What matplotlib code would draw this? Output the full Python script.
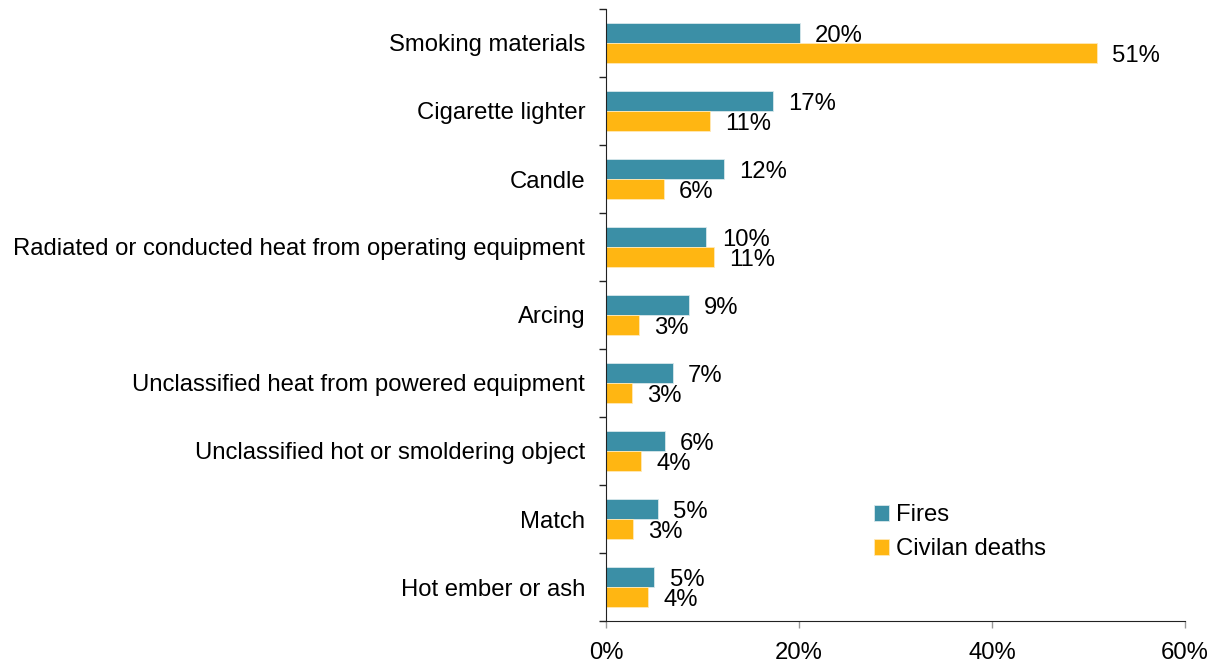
import numpy as np
import matplotlib.pyplot as plt
from matplotlib.ticker import FuncFormatter

plt.rcParams['font.family'] = ['Liberation Sans', 'DejaVu Sans']

# Heat source categories, top to bottom
categories = [
    'Smoking materials',
    'Cigarette lighter',
    'Candle',
    'Radiated or conducted heat from operating equipment',
    'Arcing',
    'Unclassified heat from powered equipment',
    'Unclassified hot or smoldering object',
    'Match',
    'Hot ember or ash',
]
fires = [20.1, 17.3, 12.2, 10.4, 8.6, 6.9, 6.1, 5.4, 5.0]
deaths = [50.9, 10.8, 6.0, 11.2, 3.4, 2.7, 3.6, 2.8, 4.4]
x_ticks = [0, 20, 40, 60]

teal = '#3B8FA6'
gold = '#FFB612'
fs = 17.2

fig = plt.figure(figsize=(12.24, 6.65), dpi=100)
ax = fig.add_axes([606 / 1224, 1 - 621 / 665, 579 / 1224, 612 / 665])

y = np.arange(len(categories))
h = 0.29
b1 = ax.barh(y - h / 2, fires, height=h, color=teal, edgecolor='#D8E8EC',
             linewidth=0.6, label='Fires')
b2 = ax.barh(y + h / 2, deaths, height=h, color=gold, edgecolor='#FFE9B8',
             linewidth=0.6, label='Civilan deaths')

for bars, vals in ((b1, fires), (b2, deaths)):
    for bar, v in zip(bars, vals):
        ax.annotate(f'{round(v)}%', (v, bar.get_y() + bar.get_height() / 2),
                    xytext=(11, -2), textcoords='offset points',
                    ha='left', va='center', fontsize=fs, color='black')

ax.set_xlim(0, 60)
ax.set_ylim(len(categories) - 0.5, -0.5)
ax.set_xticks(x_ticks)
ax.xaxis.set_major_formatter(FuncFormatter(lambda v, _: f'{v:.0f}%'))
ax.set_yticks(y)
ax.set_yticklabels(categories)
ax.set_yticks(np.arange(-0.5, len(categories), 1.0), minor=True)

ax.tick_params(axis='y', which='major', length=0, pad=15, labelsize=fs)
ax.tick_params(axis='y', which='minor', length=5, width=1, color='#222222',
               direction='out')
ax.tick_params(axis='x', length=5, width=1, color='#999999', pad=10,
               labelsize=fs)

for side in ('top', 'right'):
    ax.spines[side].set_visible(False)
ax.spines['left'].set_color('#222222')
ax.spines['bottom'].set_color('#222222')

ax.legend(loc='upper left', bbox_to_anchor=(0.443, 0.21), frameon=False,
          fontsize=fs, handlelength=0.6, handleheight=0.6, handletextpad=0.3,
          labelspacing=0.5, borderpad=0)

fig.savefig('out.png', dpi=100)
